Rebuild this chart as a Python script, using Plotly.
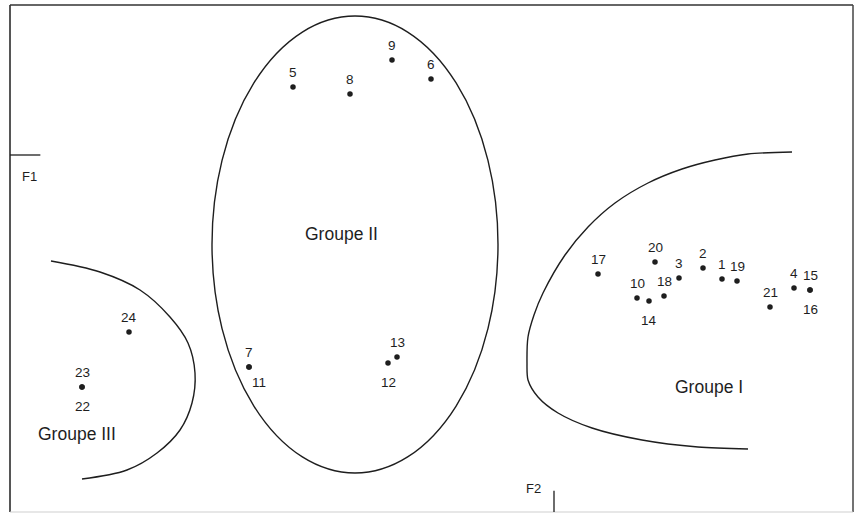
import plotly.graph_objects as go

# Observations: number, F2 coordinate (horizontal), F1 coordinate (vertical), label placement
obs_ids = ["1", "2", "3", "4", "5", "6", "7", "8", "9", "10", "11", "12",
           "13", "14", "15", "16", "17", "18", "19", "20", "21", "22", "23", "24"]
obs_f2 = [1.68, 1.49, 1.25, 2.40, -2.61, -1.23, -3.05, -2.04, -1.62, 0.83, -3.05, -1.66,
          -1.57, 0.95, 2.56, 2.56, 0.44, 1.10, 1.83, 1.01, 2.16, -4.72, -4.72, -4.25]
obs_f1 = [-1.24, -1.13, -1.23, -1.33, 0.68, 0.76, -2.12, 0.61, 0.95, -1.43, -2.12, -2.08,
          -2.02, -1.46, -1.35, -1.35, -1.19, -1.41, -1.26, -1.07, -1.52, -2.32, -2.32, -1.77]
obs_label_pos = ["above", "above", "above", "above", "above", "above", "above", "above",
                 "above", "above", "below-right", "below", "above", "below", "above", "below",
                 "above", "above", "above", "above", "above", "below", "above", "above"]

# Group II ellipse extent (F2 min/max, F1 min/max)
g2_f2 = [-3.42, -0.56]
g2_f1 = [-3.18, 1.39]

# Group I boundary
g1_f2 = [2.38, 1.94, 1.61, 1.28, 0.94, 0.61, 0.34, 0.11, -0.11, -0.20, -0.26, -0.27,
         -0.26, -0.16, 0.04, 0.38, 0.88, 1.44, 1.94]
g1_f1 = [0.03, 0.01, -0.05, -0.14, -0.28, -0.48, -0.72, -1.00, -1.38, -1.60, -1.82, -2.08,
         -2.25, -2.42, -2.58, -2.73, -2.85, -2.92, -2.94]

# Group III boundary
g3_f2 = [-5.03, -4.54, -4.14, -3.84, -3.66, -3.59, -3.62, -3.74, -3.97, -4.27, -4.72]
g3_f1 = [-1.06, -1.17, -1.35, -1.62, -1.88, -2.18, -2.48, -2.75, -2.98, -3.15, -3.24]

# Group names and label positions
group_names = ["Groupe I", "Groupe II", "Groupe III"]
group_f2 = [1.55, -2.13, -4.77]
group_f1 = [-2.32, -0.79, -2.79]

x_range = [-5.44, 2.99]
y_range = [-3.57, 1.50]

INK = "#1e1e1e"
FONT = "Arial, Liberation Sans, sans-serif"

fig = go.Figure()

# boundaries
for xs, ys, sm in [(g1_f2, g1_f1, 0.8), (g3_f2, g3_f1, 1.0)]:
    fig.add_trace(go.Scatter(x=xs, y=ys, mode="lines",
                             line=dict(color=INK, width=1.4, shape="spline", smoothing=sm),
                             hoverinfo="skip", showlegend=False))

fig.add_shape(type="circle", xref="x", yref="y",
              x0=g2_f2[0], x1=g2_f2[1], y0=g2_f1[0], y1=g2_f1[1],
              line=dict(color=INK, width=1.4))

# points
fig.add_trace(go.Scatter(x=obs_f2, y=obs_f1, mode="markers",
                         marker=dict(color=INK, size=5.5),
                         text=obs_ids, hoverinfo="text", showlegend=False))

shift = {"above": (0, 15), "below": (0, -19), "below-right": (10, -15)}
for lab, xv, yv, pos in zip(obs_ids, obs_f2, obs_f1, obs_label_pos):
    dx, dy = shift[pos]
    fig.add_annotation(x=xv, y=yv, text=lab, showarrow=False, xshift=dx, yshift=dy,
                       font=dict(family=FONT, size=13.5, color=INK))

for name, xv, yv in zip(group_names, group_f2, group_f1):
    fig.add_annotation(x=xv, y=yv, text=name, showarrow=False,
                       font=dict(family=FONT, size=17.5, color=INK))

# frame
fig.add_shape(type="line", xref="paper", yref="paper", x0=0, x1=0, y0=0, y1=1,
              line=dict(color=INK, width=1.5))
fig.add_shape(type="line", xref="paper", yref="paper", x0=0, x1=1, y0=1, y1=1,
              line=dict(color="#333333", width=1.5))
fig.add_shape(type="line", xref="paper", yref="paper", x0=1, x1=1, y0=0, y1=1,
              line=dict(color="#444444", width=1.5))
fig.add_shape(type="line", xref="paper", yref="paper", x0=0, x1=1, y0=0, y1=0,
              line=dict(color="#d0d0d0", width=1.2))

# axis markers F1 (horizontal axis at F1=0) and F2 (vertical axis at F2=0)
fig.add_shape(type="line", xref="paper", yref="y", x0=0, x1=0.036, y0=0, y1=0,
              line=dict(color=INK, width=1.3))
fig.add_shape(type="line", xref="x", yref="paper", x0=0, x1=0, y0=0, y1=0.042,
              line=dict(color=INK, width=1.3))
fig.add_annotation(x=0, y=0, xref="paper", yref="y", text="F1", showarrow=False,
                   xanchor="left", xshift=10, yshift=-21,
                   font=dict(family=FONT, size=13, color=INK))
fig.add_annotation(x=0, y=0, xref="x", yref="paper", text="F2", showarrow=False,
                   xanchor="right", xshift=-11, yshift=14,
                   font=dict(family=FONT, size=13, color=INK))

fig.update_xaxes(range=x_range, visible=False, showgrid=False, zeroline=False)
fig.update_yaxes(range=y_range, visible=False, showgrid=False, zeroline=False)
fig.update_layout(width=858, height=514, margin=dict(l=10, r=5, t=5, b=2),
                  plot_bgcolor="white", paper_bgcolor="white")

fig.write_html("out.html", config={"displayModeBar": False},
               post_script="document.body.style.margin='0px';document.body.style.overflow='hidden';")
